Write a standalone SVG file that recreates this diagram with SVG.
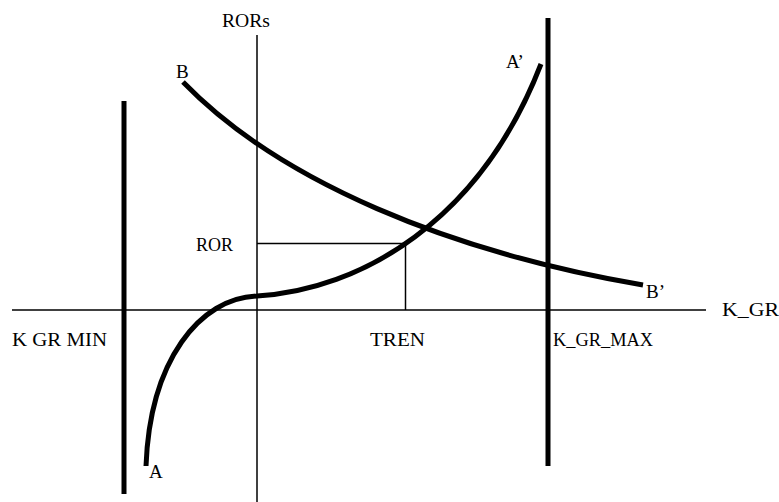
<svg xmlns="http://www.w3.org/2000/svg" width="779" height="502" viewBox="0 0 779 502">
<style>
.thin{stroke:#000;stroke-width:1.5;fill:none}
.bar{stroke:#000;stroke-width:5;fill:none}
.curve{stroke:#000;stroke-width:5;fill:none}
text{font-family:"Liberation Serif","DejaVu Serif",serif;font-size:19px;fill:#000}
</style>
<rect width="779" height="502" fill="#fff"/>
<g id="connectors">
<line class="thin" x1="12" y1="310" x2="706" y2="310"/>
<line class="thin" x1="257" y1="35" x2="257" y2="502"/>
<line class="thin" x1="257" y1="243.5" x2="405.5" y2="243.5"/>
<line class="thin" x1="405.5" y1="243.5" x2="405.5" y2="310"/>
</g>
<g id="kgrmin"><line class="bar" x1="124" y1="101" x2="124" y2="494"/><text x="12" y="346" textLength="95" lengthAdjust="spacingAndGlyphs">K GR MIN</text></g>
<g id="kgrmax"><line class="bar" x1="548" y1="18" x2="548" y2="466"/><text x="553" y="346" textLength="100" lengthAdjust="spacingAndGlyphs">K_GR_MAX</text></g>
<g id="curveA"><path class="curve" d="M146,466 C150,360 200,298 257,296 C360,290 480,222 541,64"/><text x="149" y="478">A</text><text x="506" y="68">A’</text></g>
<g id="curveB"><path class="curve" d="M183,82 C280,182 450,252 643,285"/><text x="176" y="78">B</text><text x="646" y="298">B’</text></g>
<g id="labels">
<text x="222" y="27" textLength="48" lengthAdjust="spacingAndGlyphs">RORs</text>
<text x="196" y="251" textLength="37" lengthAdjust="spacingAndGlyphs">ROR</text>
<text x="370" y="346" textLength="55" lengthAdjust="spacingAndGlyphs">TREN</text>
<text x="722" y="316" font-size="22" textLength="57" lengthAdjust="spacingAndGlyphs">K_GR</text>
</g>
</svg>
